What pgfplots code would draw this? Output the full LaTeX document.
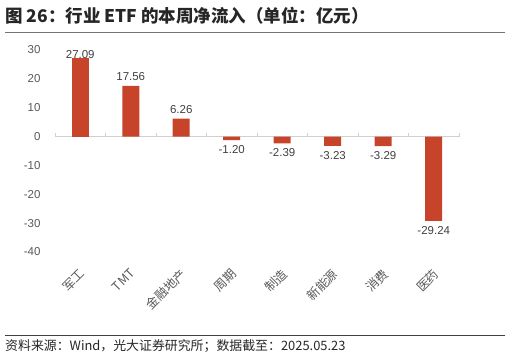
\documentclass[border=0pt]{standalone}
\usepackage{pgfplots}
\pgfplotsset{compat=1.18}
\usepackage{fontspec}
\setmainfont{Liberation Sans}
\newfontfamily\cjk{Noto Sans CJK SC}
\definecolor{barc}{HTML}{C7432A}
\definecolor{tickc}{HTML}{595959}
\definecolor{labc}{HTML}{404040}
\definecolor{zeroc}{HTML}{D0D0D0}
\begin{document}
\begin{tikzpicture}
\useasboundingbox (0,0) rectangle (511pt,-358pt);
\node[anchor=west, inner sep=0pt, font=\cjk\bfseries\fontsize{17.5}{20}\selectfont, text=black!85] at (5pt,-16pt) {图 26：行业 ETF 的本周净流入（单位：亿元）};
\draw[color=black!55, line width=1pt] (5pt,-33pt) -- (505pt,-33pt);
\draw[color=black!75, line width=0.8pt] (5pt,-335pt) -- (505pt,-335pt);
\node[anchor=west, inner sep=0pt, font=\cjk\fontsize{12.9}{15}\selectfont, text=black!85] at (5pt,-346pt) {资料来源：Wind，光大证券研究所；数据截至：2025.05.23};
\begin{axis}[
  at={(55pt,-252pt)}, anchor=south west,
  scale only axis, width=404pt, height=202pt,
  ybar, bar width=17pt, bar shift=0pt,
  xmin=-0.5, xmax=7.5, ymin=-40, ymax=30,
  ytick={-40,-30,...,30},
  xtick={0,...,7},
  xticklabels={军工,TMT,金融地产,周期,制造,新能源,消费,医药},
  axis line style={draw=none},
  major tick length=0pt,
  clip=false,
  yticklabel style={font=\fontsize{11.5}{13}\selectfont, text=tickc, anchor=east, xshift=-11pt},
  xticklabel style={font=\cjk\fontsize{12.5}{14}\selectfont, text=tickc, rotate=45, anchor=north east, xshift=-8.7pt, yshift=-6.6pt},
  /pgf/number format/assume math mode=true,
  nodes near coords={\pgfmathprintnumber[fixed,fixed zerofill,precision=2,assume math mode=true]{\pgfplotspointmeta}},
  nodes near coords style={font=\fontsize{11.5}{13}\selectfont, text=labc, inner sep=5pt},
]
\draw[zeroc, line width=0.8pt] (axis cs:-0.5,0) -- (axis cs:7.5,0);
\pgfplotsinvokeforeach{-0.5,0.5,1.5,2.5,3.5,4.5,5.5,6.5,7.5}{
  \draw[zeroc, line width=0.8pt] (axis cs:#1,0) -- (axis cs:#1,1.1);
}
\addplot[fill=barc, draw=none] coordinates {
(1,17.56) (2,6.26) (3,-1.20) (4,-2.39) (5,-3.23) (6,-3.29) (7,-29.24)
};
\addplot[fill=barc, draw=none, nodes near coords style={inner sep=0pt}] coordinates {
(0,27.09)
};
\end{axis}
\end{tikzpicture}
\end{document}
